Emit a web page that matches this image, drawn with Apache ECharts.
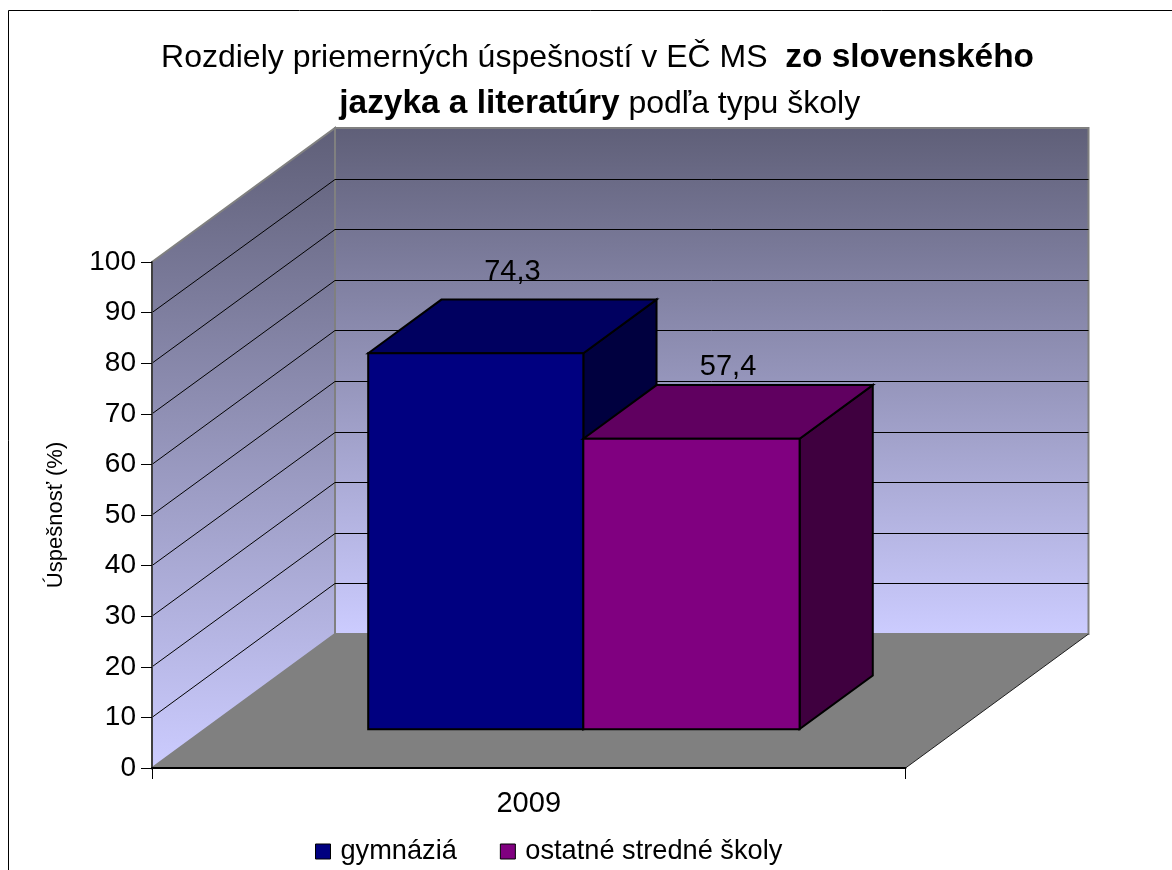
<!DOCTYPE html>
<html>
<head>
<meta charset="utf-8">
<style>html,body{margin:0;padding:0;background:#fff}#c{width:1172px;height:870px}</style>
<script src="https://cdn.jsdelivr.net/npm/echarts@6/dist/echarts.min.js"></script>
</head>
<body>
<div id="c"></div>
<script>
const categories = ['2009'];
const gymnaziaValues = [74.3];
const ostatneValues = [57.4];
const gridValues = [10, 20, 30, 40, 50, 60, 70, 80, 90];
const seriesNames = ['gymnáziá', 'ostatné stredné školy'];

const FONT = '"Liberation Sans", Arial, sans-serif';
const DX = 183, DY = -134;          // projection of the full chart depth
const BAR_D0 = 0.29, BAR_D1 = 0.69; // bar depth range
const crisp = v => Math.round(v) + 0.5;

function projector(api) {
  const band = api.size([1, 0])[0];
  return (frac, v, d) => {
    const c = api.coord([0, v]);
    return [c[0] + frac * band + DX * d, c[1] + DY * d];
  };
}

function renderWalls(params, api) {
  const P = projector(api);
  const a = P(-0.5, 0, 0), b = P(0.5, 0, 0), c = P(0.5, 0, 1), d = P(-0.5, 0, 1);
  const e = P(-0.5, 100, 0), f = P(-0.5, 100, 1), g = P(0.5, 100, 1);
  const wall = { type: 'linear', x: 0, y: 0, x2: 0, y2: 1, colorStops: [
    { offset: 0, color: '#5f5f78' }, { offset: 1, color: '#ccccff' }] };
  return { type: 'group', children: [
    { type: 'polygon', shape: { points: [f, g, c, d] },
      style: { fill: wall, stroke: '#808080', lineWidth: 2 } },
    { type: 'polygon', shape: { points: [e, f, d, a] },
      style: { fill: wall, stroke: '#808080', lineWidth: 2 } },
    { type: 'polygon', shape: { points: [a, b, c, d] }, style: { fill: '#808080' } },
    { type: 'line', shape: { x1: b[0], y1: b[1], x2: c[0], y2: c[1] },
      style: { stroke: '#202020', lineWidth: 1 } }
  ] };
}

function renderGrid(params, api) {
  const P = projector(api);
  const v = api.value(1);
  const a = P(-0.5, v, 0), b = P(-0.5, v, 1), c = P(0.5, v, 1);
  const y = crisp(b[1]);
  return { type: 'group', children: [
    { type: 'line', shape: { x1: a[0], y1: a[1], x2: b[0], y2: y },
      style: { stroke: '#000', lineWidth: 1 } },
    { type: 'line', shape: { x1: b[0], y1: y, x2: c[0], y2: y },
      style: { stroke: '#000', lineWidth: 1 } }
  ] };
}

function barRenderer(x0, x1, front, top, side, lift) {
  return function (params, api) {
    const P = projector(api);
    const v = api.value(1);
    const fbl = P(x0, 0, BAR_D0), fbr = P(x1, 0, BAR_D0);
    const ftl = P(x0, v, BAR_D0), ftr = P(x1, v, BAR_D0);
    const btl = P(x0, v, BAR_D1), btr = P(x1, v, BAR_D1), bbr = P(x1, 0, BAR_D1);
    const edge = { stroke: '#000', lineWidth: 2, lineJoin: 'miter' };
    const mid = [(ftl[0] + btr[0]) / 2, (ftl[1] + btr[1]) / 2];
    return { type: 'group', children: [
      { type: 'polygon', shape: { points: [ftr, btr, bbr, fbr] }, style: Object.assign({ fill: side }, edge) },
      { type: 'polygon', shape: { points: [ftl, btl, btr, ftr] }, style: Object.assign({ fill: top }, edge) },
      { type: 'polygon', shape: { points: [fbl, ftl, ftr, fbr] }, style: Object.assign({ fill: front }, edge) },
      { type: 'text', style: {
          text: String(v).replace('.', ','), x: mid[0], y: mid[1] - lift,
          fill: '#000', font: '29px ' + FONT, align: 'center', verticalAlign: 'middle' } }
    ] };
  };
}

const toPoints = arr => arr.map((v, i) => [i, v]);

const chart = echarts.init(document.getElementById('c'), null, { renderer: 'canvas' });
chart.setOption({
  animation: false,
  backgroundColor: '#fff',
  textStyle: { fontFamily: FONT },
  title: {
    left: 592.5, top: 30, textAlign: 'center',
    text: '{n|Rozdiely priemerných úspešností v EČ MS  }{b|zo slovenského}\n{s| }{b|jazyka a literatúry}{n| podľa typu školy}',
    textStyle: {
      rich: {
        n: { fontFamily: FONT, fontSize: 32, fontWeight: 'normal', color: '#000', lineHeight: 46 },
        b: { fontFamily: FONT, fontSize: 33.4, fontWeight: 'bold', color: '#000', lineHeight: 46 },
        s: { fontFamily: FONT, fontSize: 16, color: '#000', lineHeight: 46 }
      }
    }
  },
  legend: {
    left: 315, top: 838, padding: 0, data: seriesNames, icon: 'rect',
    itemWidth: 15, itemHeight: 15, itemGap: 43, selectedMode: false,
    itemStyle: { borderColor: '#000', borderWidth: 1 },
    textStyle: { fontFamily: FONT, fontSize: 27.2, color: '#000', padding: [0, 0, 0, 5] }
  },
  grid: { left: 152, top: 262, width: 753.5, height: 506, containLabel: false },
  xAxis: {
    type: 'category', data: categories, z: 5,
    axisLine: { lineStyle: { color: '#000', width: 2 } },
    axisTick: { show: true, length: 11, lineStyle: { color: '#000', width: 1 } },
    axisLabel: { fontFamily: FONT, fontSize: 29, color: '#000', margin: 21 }
  },
  yAxis: {
    type: 'value', min: 0, max: 100, interval: 10, z: 5,
    name: 'Úspešnosť (%)', nameLocation: 'middle', nameGap: 85, nameRotate: 90,
    nameTextStyle: { fontFamily: FONT, fontSize: 22, color: '#000' },
    axisLine: { show: true, lineStyle: { color: '#404040', width: 2 } },
    axisTick: { show: true, length: 11, lineStyle: { color: '#000', width: 1 } },
    axisLabel: { fontFamily: FONT, fontSize: 28, color: '#000', margin: 16, padding: [3, 0, 0, 0] },
    splitLine: { show: false }
  },
  graphic: [{
    type: 'polyline', silent: true, z: 0,
    shape: { points: [[8.5, 870], [8.5, 10.5], [1172, 10.5]] },
    style: { stroke: '#000', lineWidth: 1, fill: null }
  }],
  series: [
    { type: 'custom', name: 'walls', silent: true, clip: false, z: 1,
      coordinateSystem: 'cartesian2d', encode: { x: 0, y: 1 }, data: [[0, 0]], renderItem: renderWalls },
    { type: 'custom', name: 'grid', silent: true, clip: false, z: 2,
      coordinateSystem: 'cartesian2d', encode: { x: 0, y: 1 }, data: gridValues.map(v => [0, v]), renderItem: renderGrid },
    { type: 'custom', name: seriesNames[0], silent: true, clip: false, z: 3,
      coordinateSystem: 'cartesian2d', encode: { x: 0, y: 1 }, itemStyle: { color: '#000080' },
      data: toPoints(gymnaziaValues),
      renderItem: barRenderer(-0.2835, 0.002, '#000080', '#000060', '#00003f', 54) },
    { type: 'custom', name: seriesNames[1], silent: true, clip: false, z: 3,
      coordinateSystem: 'cartesian2d', encode: { x: 0, y: 1 }, itemStyle: { color: '#800080' },
      data: toPoints(ostatneValues),
      renderItem: barRenderer(0.002, 0.289, '#800080', '#600060', '#3f003f', 45) }
  ]
});
</script>
</body>
</html>
